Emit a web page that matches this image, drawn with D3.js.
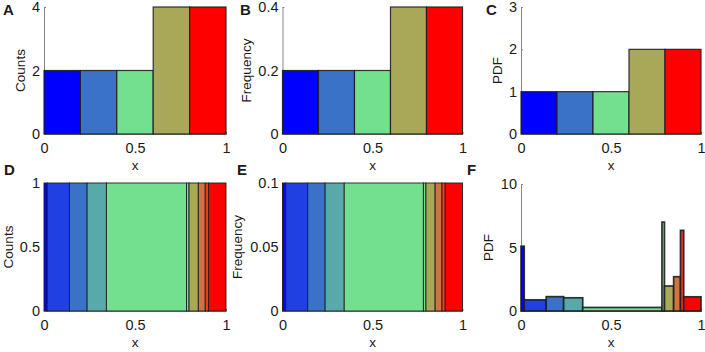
<!DOCTYPE html>
<html>
<head>
<meta charset="utf-8">
<script src="https://cdn.jsdelivr.net/npm/d3@7"></script>
<style>
  html, body { margin: 0; padding: 0; background: #fff; }
  svg { display: block; }
  text { font-family: "Liberation Sans", Arial, Helvetica, sans-serif; fill: #1a1a1a; }
</style>
</head>
<body>
<svg id="chart" width="705" height="352"></svg>
<script>
// ---------- DATA ----------
const topEdges = [0, 0.2, 0.4, 0.6, 0.8, 1];
const topColors = ["#0000ff", "#3a72c8", "#72e08e", "#a8a858", "#ff0000"];
const topCounts = [2, 2, 2, 4, 4];
const topFrequency = [0.2, 0.2, 0.2, 0.4, 0.4];
const topPDF = [1, 1, 1, 2, 2];

const bottomEdges = [0, 0.018, 0.14, 0.237, 0.343, 0.783, 0.797, 0.848, 0.886, 0.904, 1];
const bottomColors = ["#0000ff", "#2040e4", "#3a72c8", "#58aaaa", "#72e08e", "#78e08a", "#a8a858", "#d0743e", "#f03a1a", "#ff0000"];
const bottomCounts = [1, 1, 1, 1, 1, 1, 1, 1, 1, 1];
const bottomFrequency = [0.1, 0.1, 0.1, 0.1, 0.1, 0.1, 0.1, 0.1, 0.1, 0.1];
const bottomPDF = [5.1, 0.88, 1.13, 1.04, 0.28, 7.0, 1.97, 2.7, 6.35, 1.12];

const xTicks = [0, 0.5, 1];
const xTickLabels = ["0", "0.5", "1"];
const ticksA = [0, 2, 4],        labelsA = ["0", "2", "4"];
const ticksB = [0, 0.2, 0.4],    labelsB = ["0", "0.2", "0.4"];
const ticksC = [0, 1, 2, 3],     labelsC = ["0", "1", "2", "3"];
const ticksD = [0, 0.5, 1],      labelsD = ["0", "0.5", "1"];
const ticksE = [0, 0.05, 0.1],   labelsE = ["0", "0.05", "0.1"];
const ticksF = [0, 5, 10],       labelsF = ["0", "5", "10"];

// ---------- LAYOUT ----------
const panels = [
  { letter: "A", ylabel: "Counts",    edges: topEdges, values: topCounts,    colors: topColors, ymax: 4,   ticks: ticksA, labels: labelsA,
    x0: 44,    x1: 226, y0: 7,   y1: 134, letterX: 3,   letterY: 15,  ylabX: 20.5, sw: 1.2 },
  { letter: "B", ylabel: "Frequency", edges: topEdges, values: topFrequency, colors: topColors, ymax: 0.4, ticks: ticksB, labels: labelsB,
    x0: 282.5, x1: 462.5, y0: 7, y1: 134, letterX: 240, letterY: 15,  ylabX: 246, sw: 1.2 },
  { letter: "C", ylabel: "PDF",       edges: topEdges, values: topPDF,       colors: topColors, ymax: 3,   ticks: ticksC, labels: labelsC,
    x0: 521,   x1: 701, y0: 7,   y1: 134, letterX: 486, letterY: 15,  ylabX: 497, sw: 1.2 },
  { letter: "D", ylabel: "Counts",    edges: bottomEdges, values: bottomCounts,    colors: bottomColors, ymax: 1,   ticks: ticksD, labels: labelsD,
    x0: 44,    x1: 226, y0: 183, y1: 311, letterX: 4,   letterY: 175, ylabX: 8.5, sw: 1.0 },
  { letter: "E", ylabel: "Frequency", edges: bottomEdges, values: bottomFrequency, colors: bottomColors, ymax: 0.1, ticks: ticksE, labels: labelsE,
    x0: 282.5, x1: 462.5, y0: 183, y1: 311, letterX: 237, letterY: 175, ylabX: 237.5, sw: 1.0 },
  { letter: "F", ylabel: "PDF",       edges: bottomEdges, values: bottomPDF,       colors: bottomColors, ymax: 10,  ticks: ticksF, labels: labelsF,
    x0: 521,   x1: 701, y0: 184, y1: 311, letterX: 467, letterY: 175, ylabX: 488, sw: 1.7 }
];

const svg = d3.select("#chart");

panels.forEach(p => {
  const x = d3.scaleLinear().domain([0, 1]).range([p.x0, p.x1]);
  const y = d3.scaleLinear().domain([0, p.ymax]).range([p.y1, p.y0]);
  const g = svg.append("g");

  // axes (MATLAB style: left + bottom, inward ticks)
  const yAxis = d3.axisLeft(y).tickValues(p.ticks).tickFormat((d, i) => p.labels[i]).tickSizeInner(-2).tickSizeOuter(0).tickPadding(4);
  const xAxis = d3.axisBottom(x).tickValues(xTicks).tickFormat((d, i) => xTickLabels[i]).tickSizeInner(-2).tickSizeOuter(0).tickPadding(9);

  const ya = g.append("g").attr("transform", `translate(${p.x0},0)`).call(yAxis);
  const xa = g.append("g").attr("transform", `translate(0,${p.y1})`).call(xAxis);
  [ya, xa].forEach(a => {
    a.select(".domain").attr("stroke", "#858585").attr("stroke-width", 1);
    a.selectAll(".tick line").attr("stroke", "#858585");
    a.selectAll(".tick text").style("font-size", "14.5px").attr("fill", "#1a1a1a");
  });

  // bars
  const bins = p.values.map((v, i) => ({ a: p.edges[i], b: p.edges[i + 1], v, c: p.colors[i] }));
  g.append("g").selectAll("rect").data(bins).join("rect")
    .attr("x", d => x(d.a))
    .attr("width", d => x(d.b) - x(d.a))
    .attr("y", d => y(d.v))
    .attr("height", d => y(0) - y(d.v))
    .attr("fill", d => d.c)
    .attr("stroke", "#1e1e1e")
    .attr("stroke-opacity", 0.9)
    .attr("stroke-width", p.sw);

  // labels
  g.append("text")
    .attr("transform", `translate(${p.ylabX},${(p.y0 + p.y1) / 2}) rotate(-90)`)
    .attr("text-anchor", "middle").attr("dy", "0.35em")
    .style("font-size", "13.5px").text(p.ylabel);
  g.append("text")
    .attr("x", (p.x0 + p.x1) / 2).attr("y", p.y1 + 36)
    .attr("text-anchor", "middle")
    .style("font-size", "13.5px").text("x");
  g.append("text")
    .attr("x", p.letterX).attr("y", p.letterY)
    .style("font-size", "15px").style("font-weight", "bold").attr("fill", "#000")
    .text(p.letter);
});
</script>
</body>
</html>
